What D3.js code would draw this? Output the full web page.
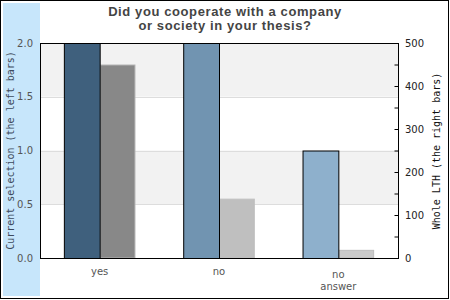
<!DOCTYPE html>
<html lang="en">
<head>
    <meta charset="UTF-8">
    <title>Cooperation chart</title>
    <script src="https://cdn.jsdelivr.net/npm/d3@7"></script>
    <style>
        body { margin: 0; background: #fff; }
        svg text { font-family: "DejaVu Sans", sans-serif; }
    </style>
</head>
<body>
<svg id="chart" width="450" height="300"></svg>
<script>
    // values
    var categories = ["yes", "no", "no answer"];
    var selection = [2, 2, 1];        // left bars, left axis
    var whole = [450, 138, 19];       // right bars, right axis
    var leftTicks = [0, 0.5, 1, 1.5, 2];
    var rightTicks = [0, 100, 200, 300, 400, 500];

    var leftColors = ["#3f607d", "#7194b1", "#8eb0cc"];
    var rightColors = ["#888888", "#bfbfbf", "#cbcbcb"];
    var rightStrokes = ["#b4b4b4", "#bfbfbf", "#bdbdbd"];

    var svg = d3.select("#chart");
    var plot = {left: 40, right: 398, top: 43, bottom: 258};

    // frame and side strip
    svg.append("rect").attr("x", 0.5).attr("y", 0.5).attr("width", 448).attr("height", 298)
        .attr("fill", "#fff").attr("stroke", "#000");
    svg.append("rect").attr("x", 3).attr("y", 3).attr("width", 37).attr("height", 293)
        .attr("fill", "#c7e6fb");

    var x = d3.scaleBand().domain(categories).range([plot.left, plot.right])
        .paddingInner(0.4).paddingOuter(0.2);
    var sub = d3.scaleBand().domain([0, 1]).range([0, x.bandwidth()]);
    var yL = d3.scaleLinear().domain([0, 2]).range([plot.bottom, plot.top]);
    var yR = d3.scaleLinear().domain([0, 500]).range([plot.bottom, plot.top]);

    // alternating bands
    var bands = d3.pairs(leftTicks).reverse();
    svg.selectAll(".band").data(bands).enter().append("rect")
        .attr("x", plot.left).attr("width", plot.right - plot.left)
        .attr("y", function (d) { return yL(d[1]); })
        .attr("height", function (d) { return yL(d[0]) - yL(d[1]); })
        .attr("fill", function (d, i) { return i % 2 === 0 ? "#f2f2f2" : "#fff"; });
    svg.selectAll(".grid").data(leftTicks.slice(1, -1)).enter().append("line")
        .attr("x1", plot.left).attr("x2", plot.right)
        .attr("y1", function (d) { return Math.round(yL(d)) + 0.5; })
        .attr("y2", function (d) { return Math.round(yL(d)) + 0.5; })
        .attr("stroke", "#dddddd");

    // bars
    var g = svg.selectAll(".cat").data(categories).enter().append("g")
        .attr("transform", function (d) { return "translate(" + x(d) + ",0)"; });
    g.append("rect")
        .attr("x", sub(1) + 0.5).attr("width", sub.bandwidth() - 1)
        .attr("y", function (d, i) { return yR(whole[i]) + 0.5; })
        .attr("height", function (d, i) { return yR(0) - yR(whole[i]) - 0.5; })
        .attr("fill", function (d, i) { return rightColors[i]; })
        .attr("stroke", function (d, i) { return rightStrokes[i]; });
    g.append("rect")
        .attr("x", sub(0) + 0.5).attr("width", sub.bandwidth())
        .attr("y", function (d, i) { return yL(selection[i]) + 0.5; })
        .attr("height", function (d, i) { return yL(0) - yL(selection[i]); })
        .attr("fill", function (d, i) { return leftColors[i]; })
        .attr("stroke", "#000");

    // plot frame
    svg.append("rect").attr("x", plot.left + 0.5).attr("y", plot.top + 0.5)
        .attr("width", plot.right - plot.left).attr("height", plot.bottom - plot.top)
        .attr("fill", "none").attr("stroke", "#000");

    // left axis
    var axL = svg.append("g").attr("transform", "translate(" + plot.left + ",0)")
        .call(d3.axisLeft(yL).tickValues(leftTicks).tickFormat(d3.format(".1f")).tickSize(0).tickPadding(7));
    axL.select(".domain").remove();
    axL.selectAll("text").attr("fill", "#555").style("font-size", "10px");

    // right axis: minor ticks inside, labels outside
    var axR = svg.append("g").attr("transform", "translate(" + (plot.right + 0.5) + ",0)")
        .call(d3.axisLeft(yR).ticks(10).tickSize(4).tickFormat(""));
    axR.select(".domain").remove();
    axR.selectAll("line").attr("stroke", "#000");
    var axR2 = svg.append("g").attr("transform", "translate(" + plot.right + ",0)")
        .call(d3.axisRight(yR).tickValues(rightTicks).tickSize(0).tickPadding(7));
    axR2.select(".domain").remove();
    axR2.selectAll("text").attr("fill", "#222").style("font-size", "10px");

    // category labels
    var lab = svg.selectAll(".xl").data(categories).enter().append("text")
        .attr("x", function (d) { return x(d) + x.bandwidth() / 2; })
        .attr("y", function (d) { return d.indexOf(" ") > 0 ? 278 : 275; })
        .attr("text-anchor", "middle").attr("fill", "#555").style("font-size", "10px");
    lab.selectAll("tspan").data(function (d) { return d.split(" "); }).enter().append("tspan")
        .attr("x", function () { return this.parentNode.getAttribute("x"); })
        .attr("dy", function (d, i) { return i ? 12 : 0; })
        .text(function (d) { return d; });

    // axis titles
    svg.append("text").attr("transform", "translate(14,150.5) rotate(-90)")
        .attr("text-anchor", "middle").attr("fill", "#3d4a5c")
        .style("font-family", "'DejaVu Sans Mono', monospace").style("font-size", "10px")
        .text("Current selection (the left bars)");
    svg.append("text").attr("transform", "translate(439.5,151) rotate(-90)")
        .attr("text-anchor", "middle").attr("fill", "#111")
        .style("font-family", "'DejaVu Sans Mono', monospace").style("font-size", "10px")
        .text("Whole LTH (the right bars)");

    // title
    svg.append("text").attr("x", 225).attr("y", 16).attr("text-anchor", "middle")
        .attr("fill", "#444").style("font-weight", "bold").style("font-size", "13px")
        .style("font-family", "'Liberation Sans', Arial, sans-serif").style("letter-spacing", "0.6px")
        .selectAll("tspan").data(["Did you cooperate with a company", "or society in your thesis?"])
        .enter().append("tspan").attr("x", 225).attr("dy", function (d, i) { return i ? 14 : 0; })
        .text(function (d) { return d; });
</script>
</body>
</html>
